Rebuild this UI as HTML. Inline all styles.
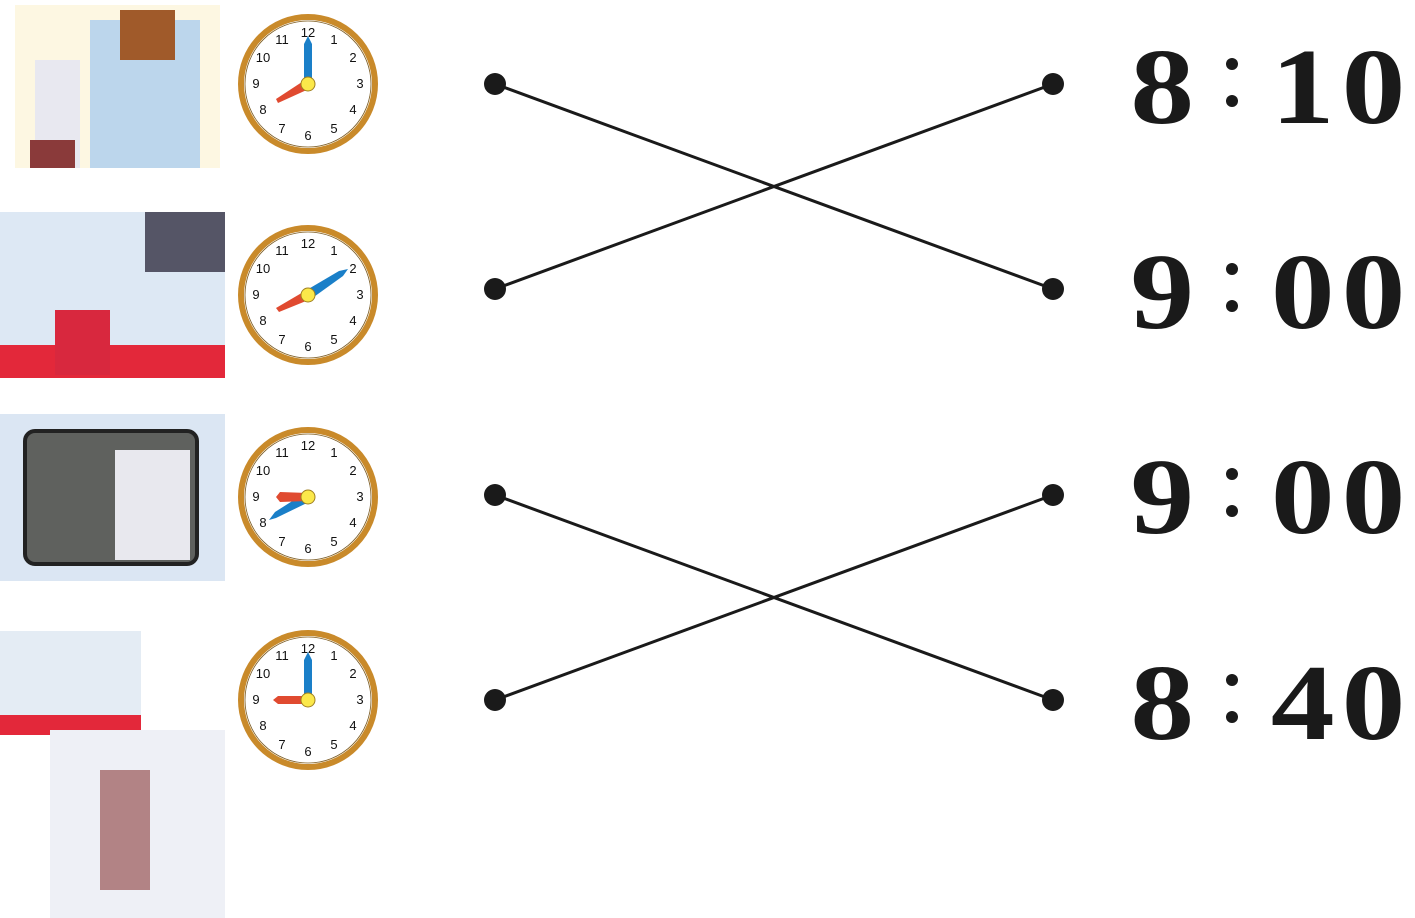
<!DOCTYPE html>
<html><head><style>body{margin:0;background:#fff}svg{display:block}</style></head><body>
<svg width="1415" height="918" viewBox="0 0 1415 918" xmlns="http://www.w3.org/2000/svg">
<defs>
<g id="face">
<circle r="67" fill="#fff" stroke="#c98a2a" stroke-width="6"/>
<circle r="63" fill="none" stroke="#7a5a20" stroke-width="0.8"/>
<g font-family="Liberation Sans, sans-serif" font-size="13" text-anchor="middle" fill="#111">
<text x="0" y="-47">12</text><text x="26" y="-40">1</text><text x="45" y="-22">2</text><text x="52" y="4">3</text><text x="45" y="30">4</text><text x="26" y="49">5</text><text x="0" y="56">6</text><text x="-26" y="49">7</text><text x="-45" y="30">8</text><text x="-52" y="4">9</text><text x="-45" y="-22">10</text><text x="-26" y="-40">11</text>
</g>
</g>
</defs>
<rect x="15" y="5" width="205" height="163" fill="#fdf7e2"/>
<rect x="90" y="20" width="110" height="148" fill="#bcd6ec"/>
<rect x="35" y="60" width="45" height="108" fill="#e8e8f0"/>
<rect x="30" y="140" width="45" height="28" fill="#8a3a3a"/>
<rect x="120" y="10" width="55" height="50" fill="#a05a2a"/>
<rect x="0" y="212" width="225" height="166" fill="#dde8f4"/>
<rect x="0" y="345" width="225" height="33" fill="#e3283a"/>
<rect x="145" y="212" width="80" height="60" fill="#556"/>
<rect x="55" y="310" width="55" height="65" fill="#d8283e"/>
<rect x="0" y="414" width="225" height="167" fill="#dbe6f3"/>
<rect x="25" y="431" width="172" height="133" rx="10" fill="#5f615e" stroke="#222" stroke-width="4"/>
<rect x="115" y="450" width="75" height="110" fill="#e8e8ee"/>
<rect x="0" y="631" width="141" height="104" fill="#e4ecf4"/>
<rect x="0" y="715" width="141" height="20" fill="#e3283a"/>
<rect x="50" y="730" width="175" height="188" fill="#eef0f6"/>
<rect x="100" y="770" width="50" height="120" fill="#8a3a3a" opacity="0.6"/>
<g transform="translate(308,84)"><use href="#face"/>
<polygon points="-4,0 4,0 4,-40 0,-48 -4,-40" fill="#1a7fc8"/>
<polygon points="-3,-4 3,4 -30,19 -32,15" fill="#e04a30"/><circle r="7" fill="#fbe84a" stroke="#a08020"/></g>
<g transform="translate(308,295)"><use href="#face"/>
<polygon points="-3,-4 3,4 35,-19 40,-26 31,-24" fill="#1a7fc8"/>
<polygon points="-3,-4 3,4 -29,17 -32,13" fill="#e04a30"/><circle r="7" fill="#fbe84a" stroke="#a08020"/></g>
<g transform="translate(308,497)"><use href="#face"/>
<polygon points="-3,-4 3,4 -32,21 -39,23 -33,15" fill="#1a7fc8"/>
<polygon points="0,-4 0,4 -28,5 -32,0 -28,-5" fill="#e04a30"/><circle r="7" fill="#fbe84a" stroke="#a08020"/></g>
<g transform="translate(308,700)"><use href="#face"/>
<polygon points="-4,0 4,0 4,-40 0,-48 -4,-40" fill="#1a7fc8"/>
<polygon points="0,-4 0,4 -30,4 -35,0 -30,-4" fill="#e04a30"/><circle r="7" fill="#fbe84a" stroke="#a08020"/></g>
<g stroke="#1a1a1a" stroke-width="3">
<line x1="495" y1="84" x2="1053" y2="289"/><line x1="495" y1="289" x2="1053" y2="84"/>
<line x1="495" y1="495" x2="1053" y2="700"/><line x1="495" y1="700" x2="1053" y2="495"/>
</g>
<g fill="#1a1a1a">
<circle cx="495" cy="84" r="11"/><circle cx="1053" cy="84" r="11"/>
<circle cx="495" cy="289" r="11"/><circle cx="1053" cy="289" r="11"/>
<circle cx="495" cy="495" r="11"/><circle cx="1053" cy="495" r="11"/>
<circle cx="495" cy="700" r="11"/><circle cx="1053" cy="700" r="11"/>
</g>
<g transform="scale(1.18,1)" font-family="Liberation Serif, serif" font-weight="bold" font-size="108" fill="#1a1a1a" text-anchor="middle">
<text x="985" y="123">8</text><text x="1104" y="123">1</text><text x="1164" y="123">0</text>
<text x="985" y="328">9</text><text x="1104" y="328">0</text><text x="1164" y="328">0</text>
<text x="985" y="533">9</text><text x="1104" y="533">0</text><text x="1164" y="533">0</text>
<text x="985" y="739">8</text><text x="1104" y="739">4</text><text x="1164" y="739">0</text>
</g>
<g fill="#1a1a1a">
<circle cx="1232" cy="64" r="6"/><circle cx="1232" cy="101" r="6"/>
<circle cx="1232" cy="269" r="6"/><circle cx="1232" cy="306" r="6"/>
<circle cx="1232" cy="474" r="6"/><circle cx="1232" cy="511" r="6"/>
<circle cx="1232" cy="680" r="6"/><circle cx="1232" cy="717" r="6"/>
</g>
</svg>
</body></html>
